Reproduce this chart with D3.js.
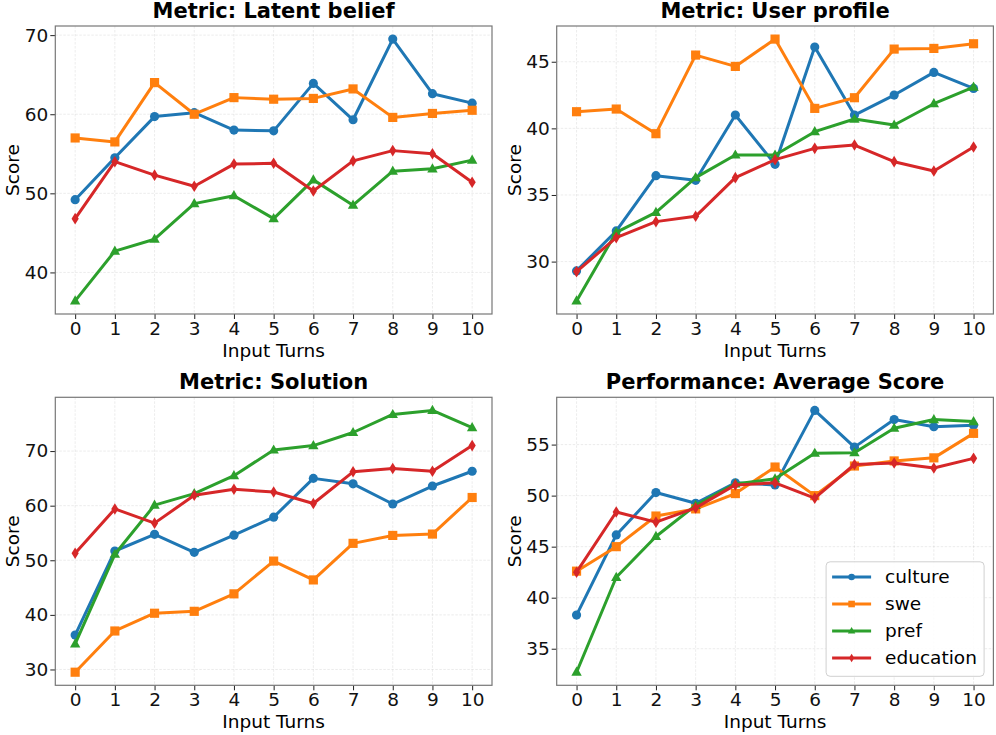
<!DOCTYPE html>
<html>
<head>
<meta charset="utf-8">
<script src="https://cdn.jsdelivr.net/npm/d3@7"></script>
<style>
  body { margin: 0; background: #fff; }
  svg { font-family: "DejaVu Sans", sans-serif; }
</style>
</head>
<body>
<div id="charts"></div>
<script>
// data
var turns = [0, 1, 2, 3, 4, 5, 6, 7, 8, 9, 10];
var seriesNames = ["culture", "swe", "pref", "education"];
var seriesColors = ["#1f77b4", "#ff7f0e", "#2ca02c", "#d62728"];

// rows in seriesNames order
var latentBelief = [
  [49.2, 54.5, 59.7, 60.2, 58.0, 57.9, 63.9, 59.3, 69.5, 62.6, 61.4],
  [57.0, 56.5, 64.0, 60.0, 62.1, 61.9, 62.0, 63.2, 59.6, 60.1, 60.5],
  [36.4, 42.7, 44.2, 48.7, 49.7, 46.8, 51.7, 48.5, 52.8, 53.1, 54.2],
  [46.8, 54.0, 52.3, 50.9, 53.7, 53.8, 50.3, 54.1, 55.4, 55.0, 51.4]
];
var userProfile = [
  [29.3, 32.3, 36.45, 36.1, 41.0, 37.3, 46.1, 41.0, 42.5, 44.2, 43.0],
  [41.25, 41.45, 39.6, 45.5, 44.65, 46.7, 41.5, 42.3, 45.95, 46.0, 46.35],
  [27.05, 32.2, 33.7, 36.3, 38.0, 38.0, 39.75, 40.7, 40.25, 41.85, 43.1],
  [29.25, 31.8, 33.0, 33.4, 36.3, 37.65, 38.5, 38.75, 37.5, 36.8, 38.6]
];
var solution = [
  [36.3, 51.7, 54.75, 51.45, 54.6, 57.9, 65.0, 64.0, 60.3, 63.6, 66.3],
  [29.5, 37.05, 40.3, 40.65, 43.85, 49.85, 46.4, 53.1, 54.55, 54.8, 61.5],
  [34.7, 51.1, 60.1, 62.2, 65.5, 70.2, 71.0, 73.4, 76.7, 77.45, 74.3],
  [51.3, 59.4, 56.8, 61.9, 63.0, 62.5, 60.4, 66.2, 66.8, 66.3, 71.0]
];
var averageScore = [
  [38.3, 46.15, 50.3, 49.25, 51.25, 51.05, 58.35, 54.75, 57.45, 56.75, 56.9],
  [42.6, 45.0, 48.0, 48.7, 50.2, 52.8, 50.0, 52.9, 53.4, 53.7, 56.1],
  [32.7, 42.0, 46.0, 49.05, 51.15, 51.65, 54.15, 54.2, 56.6, 57.45, 57.25],
  [42.5, 48.4, 47.4, 48.8, 51.05, 51.25, 49.75, 53.05, 53.2, 52.7, 53.65]
];

var titles = ["Metric: Latent belief", "Metric: User profile", "Metric: Solution", "Performance: Average Score"];
var panelData = [latentBelief, userProfile, solution, averageScore];
var yTicksList = [[40, 50, 60, 70], [30, 35, 40, 45], [30, 40, 50, 60, 70], [35, 40, 45, 50, 55]];

var width = 996, height = 735;
var frameLefts = [55.3, 556.7], frameTops = [26, 397.3];
var fw = 436.7, fh = 288;
var fs = "18.5px";

var svg = d3.select("#charts").append("svg")
  .attr("width", width).attr("height", height);

// marker paths
function markerPath(i, big) {
  var k = big ? 1 : 0.72;
  if (i == 0) return d3.symbol(d3.symbolCircle, 66 * k * k)();
  if (i == 1) return d3.symbol(d3.symbolSquare, 84 * k * k)();
  if (i == 2) return "M0," + (-5.6 * k) + "L" + (5.2 * k) + "," + (3.6 * k) + "L" + (-5.2 * k) + "," + (3.6 * k) + "Z";
  return "M0," + (-5.8 * k) + "L" + (3.6 * k) + ",0L0," + (5.8 * k) + "L" + (-3.6 * k) + ",0Z";
}

panelData.forEach(function(rows, p) {
  var left = frameLefts[p % 2], top = frameTops[Math.floor(p / 2)];
  var g = svg.append("g").attr("transform", "translate(" + left + "," + top + ")");

  var x = d3.scaleLinear().domain([-0.5, 10.5]).range([0, fw]);
  var all = [].concat.apply([], rows);
  var ext = d3.extent(all), pad = (ext[1] - ext[0]) * 0.05;
  var y = d3.scaleLinear().domain([ext[0] - pad, ext[1] + pad]).range([fh, 0]);
  var yTicks = yTicksList[p];

  // grid
  g.append("g").selectAll("line.gx").data(turns).enter().append("line")
    .attr("x1", d => x(d)).attr("x2", d => x(d)).attr("y1", 0).attr("y2", fh)
    .attr("stroke", "#b0b0b0").attr("stroke-opacity", 0.3)
    .attr("stroke-width", 0.8).attr("stroke-dasharray", "2.5,1.5");
  g.append("g").selectAll("line.gy").data(yTicks).enter().append("line")
    .attr("x1", 0).attr("x2", fw).attr("y1", d => y(d)).attr("y2", d => y(d))
    .attr("stroke", "#b0b0b0").attr("stroke-opacity", 0.3)
    .attr("stroke-width", 0.8).attr("stroke-dasharray", "2.5,1.5");

  // axes
  var xAxis = g.append("g").attr("transform", "translate(0," + fh + ")")
    .call(d3.axisBottom(x).tickValues(turns).tickSize(5).tickPadding(3));
  var yAxis = g.append("g")
    .call(d3.axisLeft(y).tickValues(yTicks).tickSize(5).tickPadding(2));
  [xAxis, yAxis].forEach(function(a) {
    a.select(".domain").remove();
    a.selectAll("line").attr("stroke", "#222").attr("stroke-width", 1);
    a.selectAll("text").attr("font-size", fs).attr("fill", "#111")
      .attr("font-family", "DejaVu Sans");
  });

  // frame
  g.append("rect").attr("width", fw).attr("height", fh)
    .attr("fill", "none").attr("stroke", "#777").attr("stroke-width", 1.2);

  // lines + markers
  var line = d3.line().x((d, i) => x(turns[i])).y(d => y(d));
  rows.forEach(function(vals, s) {
    g.append("path").attr("d", line(vals))
      .attr("fill", "none").attr("stroke", seriesColors[s])
      .attr("stroke-width", 3).attr("stroke-linejoin", "round");
    g.append("g").selectAll("path").data(vals).enter().append("path")
      .attr("d", markerPath(s, true))
      .attr("transform", (d, i) => "translate(" + x(turns[i]) + "," + y(d) + ")")
      .attr("fill", seriesColors[s]);
  });

  // titles & labels
  g.append("text").attr("x", fw / 2).attr("y", -8)
    .attr("text-anchor", "middle").attr("font-size", "21px").attr("font-weight", "bold")
    .text(titles[p]);
  g.append("text").attr("x", fw / 2).attr("y", fh + 43)
    .attr("text-anchor", "middle").attr("font-size", fs).text("Input Turns");
  g.append("text").attr("transform", "translate(-36," + (fh / 2) + ") rotate(-90)")
    .attr("text-anchor", "middle").attr("font-size", fs).text("Score");

  // legend only in the last panel
  if (p == 3) {
    var lg = g.append("g").attr("transform", "translate(" + (fw - 167.3) + "," + (fh - 123.5) + ")");
    lg.append("rect").attr("width", 158).attr("height", 114.5).attr("rx", 4)
      .attr("fill", "#fff").attr("fill-opacity", 0.85)
      .attr("stroke", "#d0d0d0").attr("stroke-width", 1);
    seriesNames.forEach(function(name, s) {
      var ry = 15.2 + s * 27;
      lg.append("line").attr("x1", 6).attr("x2", 45).attr("y1", ry).attr("y2", ry)
        .attr("stroke", seriesColors[s]).attr("stroke-width", 3);
      lg.append("path").attr("d", markerPath(s, false))
        .attr("transform", "translate(25.5," + ry + ")").attr("fill", seriesColors[s]);
      lg.append("text").attr("x", 59).attr("y", ry).attr("dy", "0.35em")
        .attr("font-size", fs).text(name);
    });
  }
});
</script>
</body>
</html>
